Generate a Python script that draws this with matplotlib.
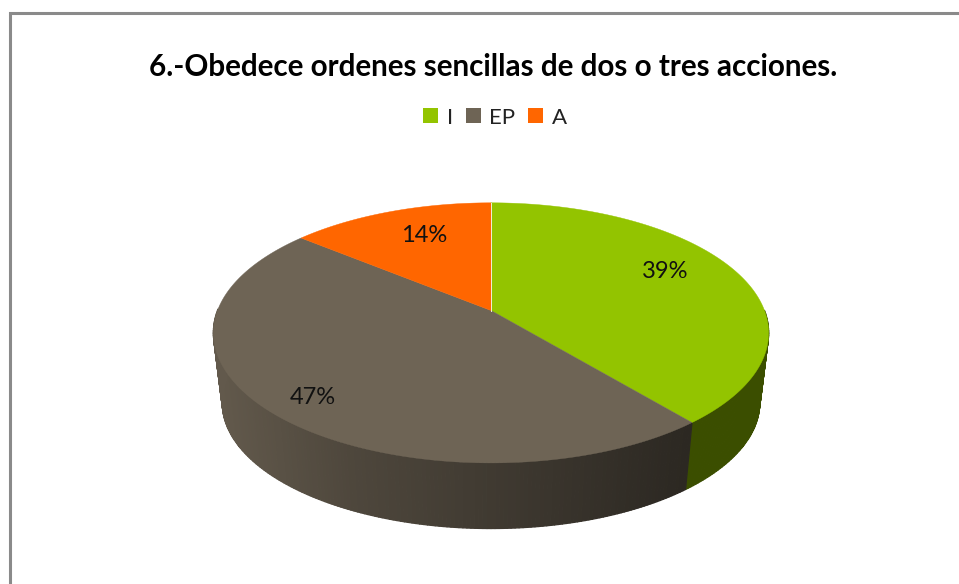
import numpy as np
from matplotlib import pyplot as plt
from matplotlib.collections import PolyCollection
from matplotlib.patches import Polygon, Patch
from matplotlib.colors import to_rgb

plt.rcParams['font.family'] = ['Lato', 'DejaVu Sans']

categories = ['I', 'EP', 'A']
values = [39, 47, 14]
labels = ['39%', '47%', '14%']
colors = ['#93c400', '#6e6455', '#ff6600']
title = '6.-Obedece ordenes sencillas de dos o tres acciones.'

# where the percent labels sit, in pixels
label_pos = [(665, 271), (313, 398), (424, 236)]

# pie projection, all in pixels
cx = 491
top_y = 310.5
bottom_y = 381
bottom_scale = 0.968
A = 273.5
B = 126.2
k = 0.172


def project(theta, r=1.0, y0=top_y, s=1.0):
    # theta is clockwise from 12 o'clock, top of the pie is further away
    u = r * np.sin(theta)
    v = r * np.cos(theta)
    w = 1 + k * v
    return cx + s * A * u / w, y0 - s * B * v / w


def shade(x):
    # side of the pie gets darker from left to right
    return np.interp(x, [222, 350, 491, 685, 770], [0.89, 0.71, 0.58, 0.40, 0.40])


fig = plt.figure(figsize=(9.59, 5.84), dpi=100)
ax = fig.add_axes([0, 0, 1, 1])
ax.set_xlim(0, 959)
ax.set_ylim(584, 0)
ax.axis('off')

# chart frame runs off the right and bottom of the picture
ax.plot([10, 10, 970], [600, 13, 13], color='#8a8a8a', lw=2.2, solid_joinstyle='miter')

total = sum(values)
edges = np.cumsum([0] + values) / total * 2 * np.pi

# sides first, only the front half is ever seen
for i in range(len(values)):
    n = max(int(values[i] * 5), 2)
    t = np.linspace(edges[i], edges[i + 1], n + 1)
    x1, y1 = project(t)
    x2, y2 = project(t, y0=bottom_y, s=bottom_scale)
    quads = []
    quad_colors = []
    base = np.array(to_rgb(colors[i]))
    for j in range(n):
        if np.cos(t[j]) > 0 and np.cos(t[j + 1]) > 0:
            continue
        quads.append([(x1[j], y1[j]), (x1[j + 1], y1[j + 1]), (x2[j + 1], y2[j + 1]), (x2[j], y2[j])])
        f = shade((x1[j] + x1[j + 1] + x2[j] + x2[j + 1]) / 4)
        quad_colors.append(base * f)
    # edges as wide as the seams so no stripes show
    ax.add_collection(PolyCollection(quads, facecolors=quad_colors, edgecolors=quad_colors, linewidths=0.9))

# top face
for i in range(len(values)):
    t = np.linspace(edges[i], edges[i + 1], 200)
    x, y = project(t)
    pts = [(cx, top_y)] + list(zip(x, y))
    ax.add_patch(Polygon(pts, closed=True, facecolor=colors[i], edgecolor=colors[i], lw=0.3))

# pale seam between orange and green
sx, sy = project(0.0)
ax.plot([cx, sx], [top_y, sy], color='#f4efd8', lw=0.7)

for i in range(len(values)):
    ax.text(label_pos[i][0], label_pos[i][1], labels[i], fontsize=17, color='#111111', ha='center', va='center')

ax.text(493.5, 66.5, title, fontsize=21.3, fontweight='bold', color='black', ha='center', va='center')

handles = [Patch(facecolor=colors[i], edgecolor='none', label=categories[i]) for i in range(len(values))]
ax.legend(handles=handles, ncol=3, loc='center', bbox_to_anchor=(495 / 959, 1 - 117.5 / 584), frameon=False,
          fontsize=16, handlelength=0.68, handleheight=0.68, handletextpad=0.38, columnspacing=0.58,
          labelcolor='#222222', borderpad=0, borderaxespad=0)

plt.savefig('out.png', dpi=100)
